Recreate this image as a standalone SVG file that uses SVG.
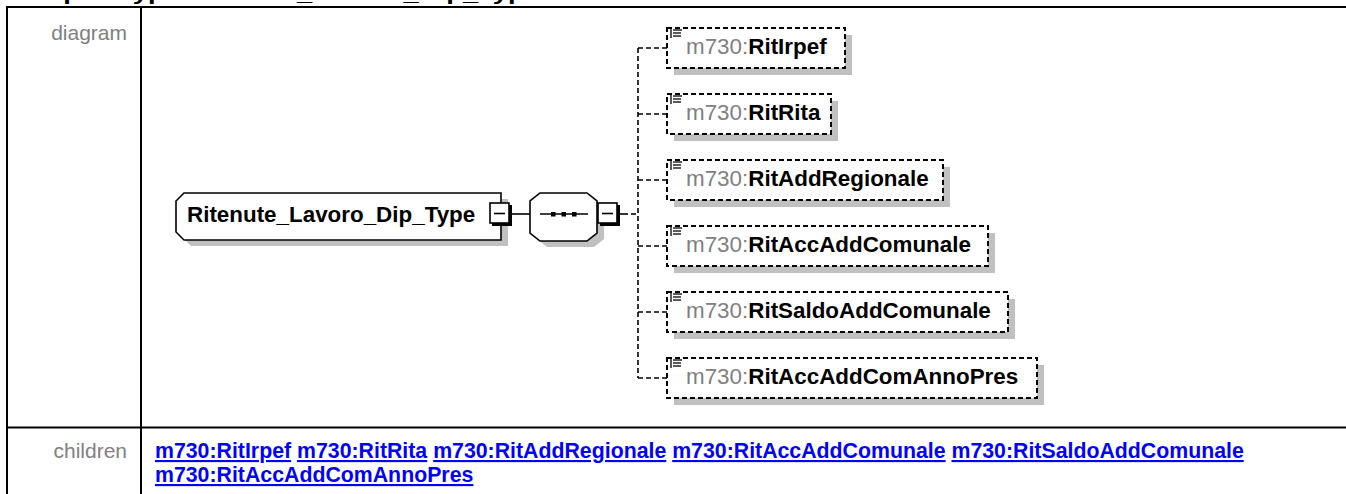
<svg xmlns="http://www.w3.org/2000/svg" width="1346" height="494" viewBox="0 0 1346 494">
<style>
.grid{stroke:#000;stroke-width:2;fill:none}
.lbl{font-family:"Liberation Sans",Arial,sans-serif;font-size:21px;fill:#808080}
.lnk{font-family:"Liberation Sans",Arial,sans-serif;font-size:21.3px;font-weight:bold;fill:#0000ff}
.u{text-decoration:underline}
.shadow{fill:#c0c0c0;stroke:none}
.solid{fill:#fff;stroke:#000;stroke-width:1.6}
.dbox{fill:#fff;stroke:#000;stroke-width:2;stroke-dasharray:5,3}
.ntext{font-family:"Liberation Sans",Arial,sans-serif;font-size:22.4px}
.ns{fill:#808080}
.nn{fill:#000;font-weight:bold}
.conn{stroke:#000;stroke-width:1.6;fill:none;stroke-dasharray:5,3}
.line{stroke:#000;stroke-width:1.6;fill:none}
.icon{stroke:#000;stroke-width:1.3}
</style>
<defs>
<g id="ico">
<line class="icon" x1="0" y1="0" x2="0" y2="9"/>
<line class="icon" x1="2" y1="1" x2="11" y2="1"/>
<line class="icon" x1="2" y1="4" x2="10" y2="4"/>
<line class="icon" x1="2" y1="7" x2="10" y2="7"/>
</g>
<g id="minus">
<rect x="2" y="2" width="20" height="21" fill="#000"/>
<rect x="0" y="0" width="19" height="20" fill="#fff" stroke="#000" stroke-width="1.6"/>
<line x1="4" y1="10.5" x2="15" y2="10.5" stroke="#000" stroke-width="1.6"/>
</g>
</defs>

<g id="header">
<text x="7" y="-0.5" font-family="'Liberation Sans',Arial,sans-serif" font-size="20" font-weight="bold" textLength="533" lengthAdjust="spacingAndGlyphs">complexType Ritenute_Lavoro_Dip_Type</text>
</g>

<g id="table">
<line class="grid" x1="6" y1="7" x2="1346" y2="7"/>
<line class="grid" x1="7" y1="6" x2="7" y2="494"/>
<line class="grid" x1="141" y1="7" x2="141" y2="494"/>
<line class="grid" x1="7" y1="427.5" x2="1346" y2="427.5"/>
<text class="lbl" x="127" y="40" text-anchor="end">diagram</text>
<text class="lbl" x="127" y="458" text-anchor="end">children</text>
<text class="lnk" x="155" y="458"><tspan class="u">m730:RitIrpef</tspan> <tspan class="u">m730:RitRita</tspan> <tspan class="u">m730:RitAddRegionale</tspan> <tspan class="u">m730:RitAccAddComunale</tspan> <tspan class="u">m730:RitSaldoAddComunale</tspan></text>
<text class="lnk" x="155" y="482"><tspan class="u">m730:RitAccAddComAnnoPres</tspan></text>
</g>

<g id="connectors">
<line class="line" x1="510" y1="214" x2="530" y2="214"/>
<line class="line" x1="619" y1="214" x2="628" y2="214"/>
<line class="conn" x1="631" y1="214" x2="638" y2="214"/>
<line class="conn" x1="638" y1="48" x2="638" y2="378"/>
<line class="conn" x1="638" y1="48" x2="667" y2="48"/>
<line class="conn" x1="638" y1="114" x2="667" y2="114"/>
<line class="conn" x1="638" y1="180" x2="667" y2="180"/>
<line class="conn" x1="638" y1="246" x2="667" y2="246"/>
<line class="conn" x1="638" y1="312" x2="667" y2="312"/>
<line class="conn" x1="638" y1="378" x2="667" y2="378"/>
</g>

<g id="node-main">
<polygon class="shadow" points="191,199 508,199 508,246 191,246 183,238 183,207"/>
<polygon class="solid" points="184,193 501,193 501,240 184,240 176,232 176,201"/>
<text class="ntext nn" x="187" y="222">Ritenute_Lavoro_Dip_Type</text>
<use href="#minus" x="490" y="203"/>
</g>

<g id="node-sequence">
<polygon class="shadow" points="547,199 594,199 604,207 604,239 594,247 547,247 537,239 537,207"/>
<polygon class="solid" points="540,193 587,193 597,201 597,233 587,241 540,241 530,233 530,201"/>
<line class="line" x1="540" y1="214" x2="588" y2="214"/>
<rect x="551" y="212" width="4.5" height="4.5" fill="#000"/>
<rect x="561.5" y="212" width="4.5" height="4.5" fill="#000"/>
<rect x="572" y="212" width="4.5" height="4.5" fill="#000"/>
<use href="#minus" x="598" y="203"/>
</g>

<g id="node-RitIrpef">
<rect class="shadow" x="674" y="35" width="178" height="40"/>
<rect class="dbox" x="667" y="28" width="178" height="40"/>
<use href="#ico" x="671" y="29"/>
<text class="ntext" x="686" y="54"><tspan class="ns">m730:</tspan><tspan class="nn">RitIrpef</tspan></text>
</g>

<g id="node-RitRita">
<rect class="shadow" x="674" y="101" width="164" height="40"/>
<rect class="dbox" x="667" y="94" width="164" height="40"/>
<use href="#ico" x="671" y="95"/>
<text class="ntext" x="686" y="120"><tspan class="ns">m730:</tspan><tspan class="nn">RitRita</tspan></text>
</g>

<g id="node-RitAddRegionale">
<rect class="shadow" x="674" y="167" width="276" height="40"/>
<rect class="dbox" x="667" y="160" width="276" height="40"/>
<use href="#ico" x="671" y="161"/>
<text class="ntext" x="686" y="186"><tspan class="ns">m730:</tspan><tspan class="nn">RitAddRegionale</tspan></text>
</g>

<g id="node-RitAccAddComunale">
<rect class="shadow" x="674" y="233" width="321" height="40"/>
<rect class="dbox" x="667" y="226" width="321" height="40"/>
<use href="#ico" x="671" y="227"/>
<text class="ntext" x="686" y="252"><tspan class="ns">m730:</tspan><tspan class="nn">RitAccAddComunale</tspan></text>
</g>

<g id="node-RitSaldoAddComunale">
<rect class="shadow" x="674" y="299" width="341" height="40"/>
<rect class="dbox" x="667" y="292" width="341" height="40"/>
<use href="#ico" x="671" y="293"/>
<text class="ntext" x="686" y="318"><tspan class="ns">m730:</tspan><tspan class="nn">RitSaldoAddComunale</tspan></text>
</g>

<g id="node-RitAccAddComAnnoPres">
<rect class="shadow" x="674" y="365" width="370" height="40"/>
<rect class="dbox" x="667" y="358" width="370" height="40"/>
<use href="#ico" x="671" y="359"/>
<text class="ntext" x="686" y="384"><tspan class="ns">m730:</tspan><tspan class="nn">RitAccAddComAnnoPres</tspan></text>
</g>
</svg>
